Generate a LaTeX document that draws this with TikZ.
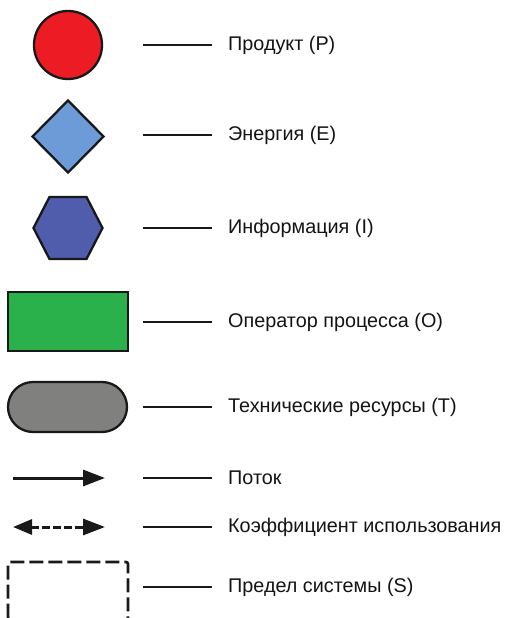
\documentclass[tikz,border=0pt]{standalone}
\usepackage{fontspec}
\setmainfont{Liberation Sans}
\usetikzlibrary{shapes.geometric,shapes.misc,arrows.meta}
\definecolor{cred}{RGB}{237,28,36}
\definecolor{cdia}{RGB}{108,155,215}
\definecolor{chex}{RGB}{79,93,172}
\definecolor{cgreen}{RGB}{43,177,76}
\definecolor{cgray}{RGB}{128,128,126}
\definecolor{ctext}{RGB}{20,20,20}
\tikzset{
  outl/.style={draw=black!90, line width=2.3pt},
  lbl/.style={anchor=west, inner sep=0pt, text=ctext, font=\fontsize{19.8}{22}\selectfont},
  lead/.style={draw=black!90, line width=1.4pt},
}
\begin{document}
\begin{tikzpicture}[x=1pt,y=-1pt]
\useasboundingbox (0,0) rectangle (504,618);
\fill[white] (0,0) rectangle (504,618);
% shapes
\node[outl, fill=cred, circle, minimum size=68pt, inner sep=0pt] (p) at (68,45) {};
\node[outl, fill=cdia, diamond, minimum width=72pt, minimum height=73pt, inner sep=0pt] (e) at (68,136.5) {};
\draw[outl, fill=chex, line join=miter] (33.5,228) -- (49.5,197) -- (86.5,197) -- (102.5,228) -- (86.5,259) -- (49.5,259) -- cycle;
\coordinate (i) at (68,228);
\node[outl, fill=cgreen, rectangle, minimum width=120pt, minimum height=59pt, inner sep=0pt] (o) at (68,321.5) {};
\node[outl, fill=cgray, rounded rectangle, minimum width=119pt, minimum height=50pt, inner sep=0pt] (t) at (67.5,407) {};
\coordinate (fa) at (13,478);
\coordinate (fb) at (105,478);
\draw[line width=3pt, draw=black!90, -{Triangle[length=22pt,width=16pt]}] (fa) -- (fb);
\coordinate (ka) at (13,527);
\coordinate (kb) at (105,527);
\draw[line width=3pt, draw=black!90, dash pattern=on 8pt off 3pt, {Triangle[length=19pt,width=15pt]}-{Triangle[length=22pt,width=16pt]}] (ka) -- (kb);
\draw[line width=2.6pt, draw=black!90, dash pattern=on 14pt off 5pt, rounded corners=2pt] (8,619.5) -- (8,562) -- (128,562) -- (128,619.5) -- cycle;
\coordinate (s) at (68,590);
% labels
\node[lbl] (lp) at (228,45) {Продукт (P)};
\node[lbl] (le) at (228,135) {Энергия (E)};
\node[lbl] (li) at (228,228) {Информация (I)};
\node[lbl] (lo) at (228,322) {Оператор процесса (O)};
\node[lbl] (lt) at (228,407) {Технические ресурсы (T)};
\node[lbl] (lf) at (228,478) {Поток};
\node[lbl] (lk) at (228,527) {Коэффициент использования};
\node[lbl] (ls) at (228,587) {Предел системы (S)};
% leader lines
\foreach \n in {lp,le,li,lo,lt,lf,lk,ls}{
  \draw[lead] ([xshift=-16pt]\n.west) -- ([xshift=-85pt]\n.west);
}
\end{tikzpicture}
\end{document}
